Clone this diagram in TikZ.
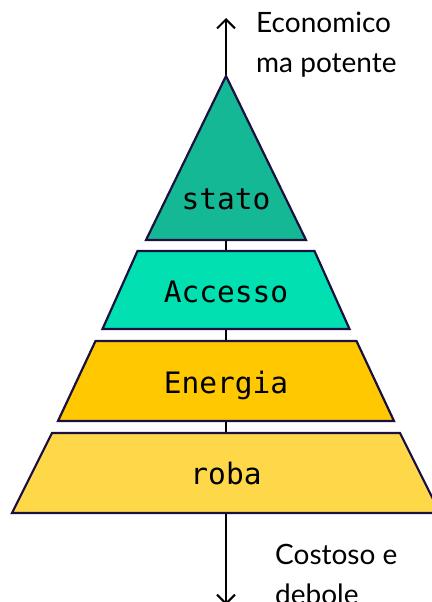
\documentclass[tikz,border=0pt]{standalone}
\usepackage{fontspec}
\setmainfont{Lato}
\setmonofont{DejaVu Sans Mono}
\usetikzlibrary{arrows.meta}
\definecolor{ink}{HTML}{1B1040}
\definecolor{deepteal}{HTML}{14B894}
\definecolor{mint}{HTML}{00E0B0}
\definecolor{amber}{HTML}{FFC800}
\definecolor{sand}{HTML}{FFD84A}
\tikzset{
	layer/.style={draw=ink, line width=2.2pt, line join=miter},
	tag/.style={font=\ttfamily\fontsize{29.5}{30}\selectfont, anchor=base, inner sep=0pt},
	note/.style={font=\fontsize{28}{40}\selectfont, align=left, anchor=base west, inner sep=0pt},
	axis/.style={{Straight Barb[length=9pt, width=18pt]}-{Straight Barb[length=9pt, width=18pt]}, line width=2pt, black},
}

\begin{document}
\begin{tikzpicture}[x=1pt, y=-1pt]
	\useasboundingbox (0,0) rectangle (431,602);
	\coordinate (top) at (226,18);
	\coordinate (bot) at (226,605);
	\draw[axis] (bot) -- (top);
	% pyramid, tip first
	\draw[layer, fill=deepteal] (226,76) -- (306,240) -- (146,240) -- cycle;
	\foreach \ya/\wa/\yb/\wb/\col in {251/88.5/329/123.5/mint, 341/130.5/421/168/amber, 433/174/513/214/sand}
		\draw[layer, fill=\col] (226-\wa,\ya) -- (226+\wa,\ya) -- (226+\wb,\yb) -- (226-\wb,\yb) -- cycle;
	\node[tag] (stato) at (226,209) {stato};
	\node[tag] (accesso) at (226,302) {Accesso};
	\node[tag] (energia) at (226,393) {Energia};
	\node[tag] (roba) at (226,484) {roba};
	\node[note] (cheap) at (256,73) {Economico\\ma potente};
	\node[note] (costly) at (275,604) {Costoso e\\debole};
\end{tikzpicture}
\end{document}
